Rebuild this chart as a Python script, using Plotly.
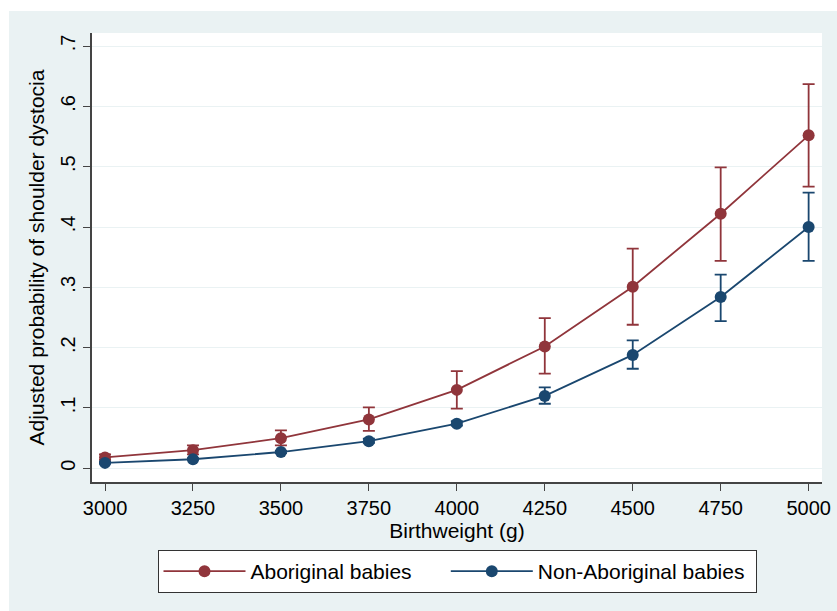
import plotly.graph_objects as go

# Data
birthweight = [3000, 3250, 3500, 3750, 4000, 4250, 4500, 4750, 5000]
abo = [0.018, 0.030, 0.050, 0.081, 0.130, 0.202, 0.301, 0.422, 0.552]
abo_lo = [0.014, 0.023, 0.038, 0.062, 0.099, 0.157, 0.238, 0.344, 0.467]
abo_hi = [0.023, 0.038, 0.063, 0.101, 0.161, 0.249, 0.364, 0.499, 0.637]
non = [0.009, 0.015, 0.027, 0.045, 0.074, 0.120, 0.188, 0.284, 0.400]
non_lo = [0.008, 0.014, 0.025, 0.042, 0.071, 0.107, 0.165, 0.244, 0.344]
non_hi = [0.011, 0.017, 0.029, 0.049, 0.078, 0.134, 0.212, 0.321, 0.457]

x_ticks = [3000, 3250, 3500, 3750, 4000, 4250, 4500, 4750, 5000]
y_tickvals = [0, 0.1, 0.2, 0.3, 0.4, 0.5, 0.6, 0.7]
y_ticktext = ["0", ".1", ".2", ".3", ".4", ".5", ".6", ".7"]

series_names = ["Aboriginal babies", "Non-Aboriginal babies"]
RED = "#90353B"
BLUE = "#1A476F"
FONT = "Liberation Sans, Arial, sans-serif"

fig = go.Figure()


def add_series(y, lo, hi, name, color):
    plus = [h - v for h, v in zip(hi, y)]
    minus = [v - l for v, l in zip(y, lo)]
    fig.add_trace(go.Scatter(
        x=birthweight, y=y, name=name, mode="lines+markers",
        line=dict(color=color, width=1.8),
        marker=dict(color=color, size=12, symbol="circle"),
        error_y=dict(type="data", array=plus, arrayminus=minus,
                     color=color, thickness=1.8, width=6, visible=True),
    ))


# trailing non-breaking spaces only widen the gaps inside the legend box
add_series(abo, abo_lo, abo_hi, series_names[0] + "\u00a0" * 5, RED)
add_series(non, non_lo, non_hi, series_names[1] + "\u00a0", BLUE)

W, H = 837, 611
L, R, T, B = 92, 15, 33, 129
pw, ph = W - L - R, H - T - B


def px_x(p):
    return (p - L) / pw


def px_y(p):
    return (H - B - p) / ph


fig.add_shape(type="rect", xref="paper", yref="paper", layer="below",
              x0=px_x(9), x1=px_x(W + 5), y0=px_y(H + 5), y1=px_y(11),
              fillcolor="#EAF2F3", line=dict(width=0))
fig.add_shape(type="rect", xref="paper", yref="paper", layer="below",
              x0=0, x1=1, y0=0, y1=1,
              fillcolor="white", line=dict(width=0))

fig.update_layout(
    width=W, height=H,
    margin=dict(l=L, r=R, t=T, b=B, autoexpand=False),
    paper_bgcolor="white", plot_bgcolor="white",
    font=dict(family=FONT, size=20, color="#000000"),
    showlegend=True,
    legend=dict(orientation="h", x=0.5, xanchor="center", y=px_y(550), yanchor="top",
                bgcolor="white", bordercolor="#333333", borderwidth=1,
                itemwidth=82, font=dict(size=21, color="#000000"),
                itemclick=False),
    xaxis=dict(range=[2963, 5038], tickvals=x_ticks, ticks="outside", ticklen=7,
               tickwidth=1.2, tickcolor="#444444", showline=True, linecolor="#444444",
               linewidth=1.5, showgrid=False, zeroline=False,
               title=dict(text="Birthweight (g)", standoff=1, font=dict(size=21)),
               tickfont=dict(size=20, color="#000000"), automargin=False),
    yaxis=dict(range=[-0.0227, 0.7216], tickvals=y_tickvals, ticktext=y_ticktext,
               tickangle=-90, ticks="outside", ticklen=7, tickwidth=1.2,
               tickcolor="#444444", showline=True, linecolor="#444444", linewidth=1.5,
               showgrid=True, gridcolor="#EAF2F3", gridwidth=1.2, zeroline=False,
               title=dict(text="Adjusted probability of shoulder dystocia", standoff=7,
                          font=dict(size=21)),
               tickfont=dict(size=20, color="#000000"), automargin=False),
)

fig.write_html("out.html")
